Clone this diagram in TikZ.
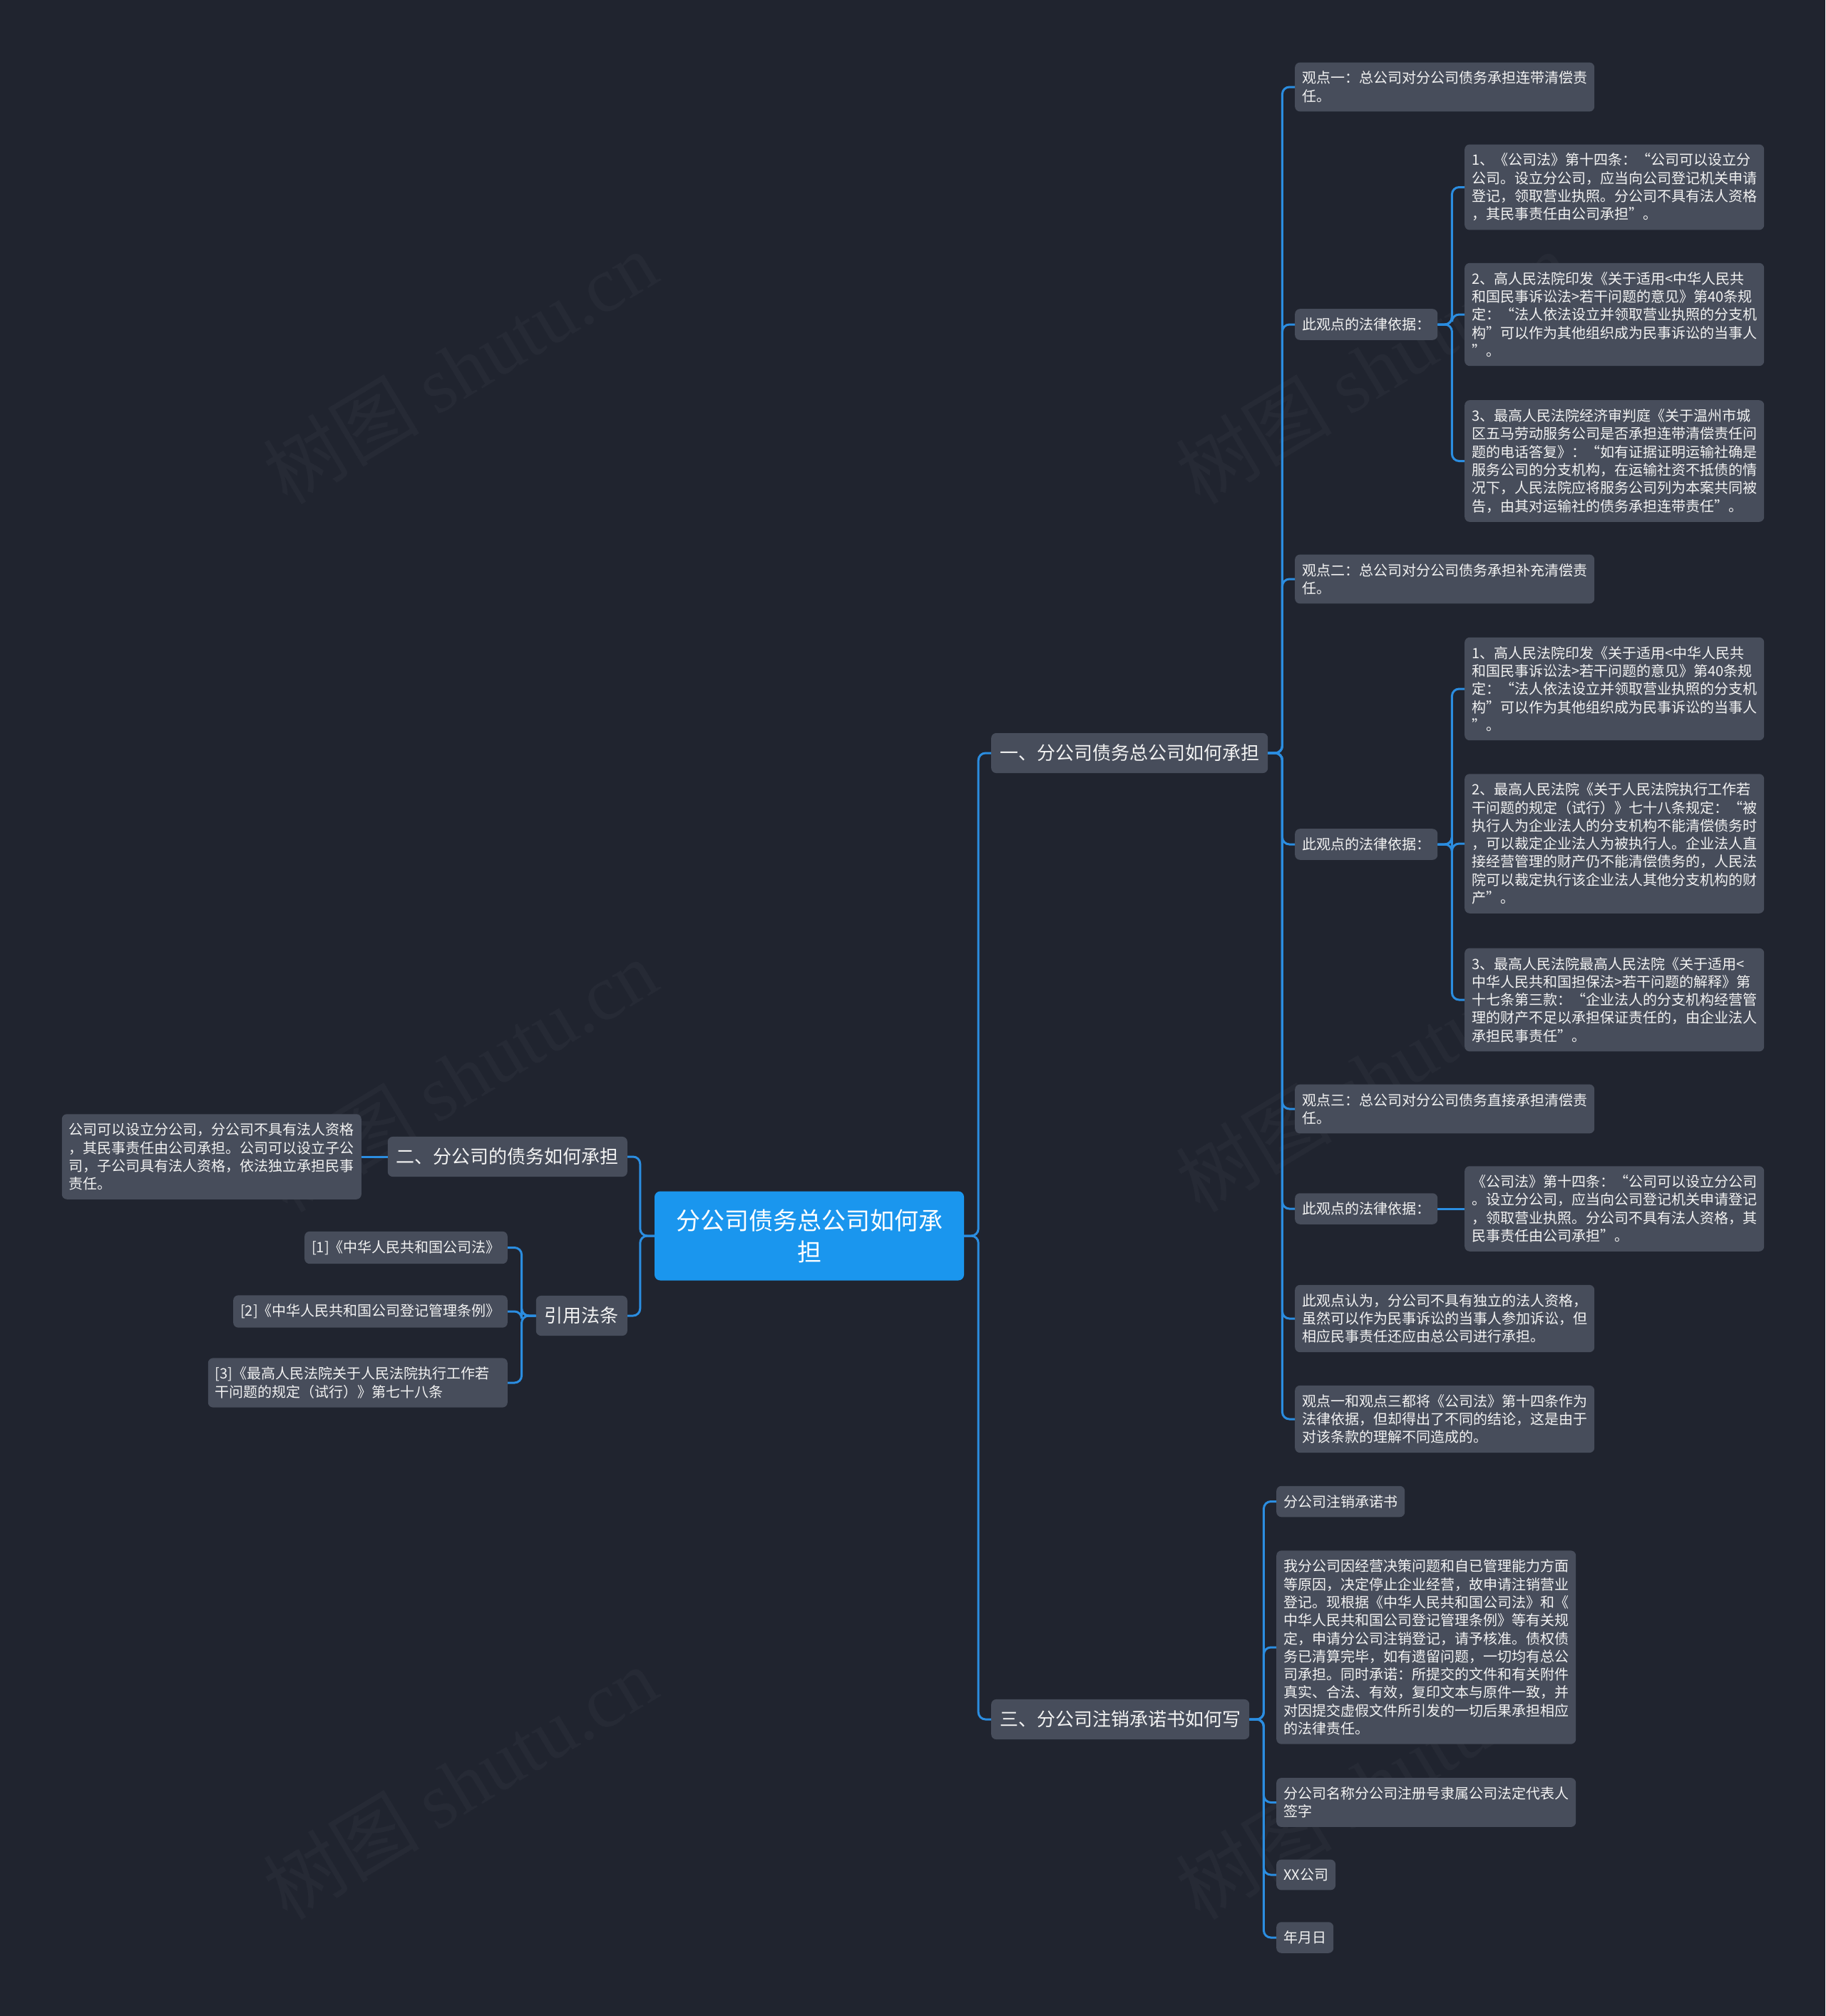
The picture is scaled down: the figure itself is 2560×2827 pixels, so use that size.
\documentclass[tikz,border=0pt]{standalone}
\usepackage{fontspec}
\setmainfont{Noto Sans CJK SC}
\newfontfamily\wmserif{Liberation Serif}
\definecolor{bgc}{HTML}{20242F}
\definecolor{nodefill}{HTML}{474D5B}
\definecolor{rootblue}{HTML}{1A96EE}
\definecolor{lineblue}{HTML}{2B8DE0}
\definecolor{txtc}{HTML}{F2F2F2}
\definecolor{wmc}{HTML}{262A35}
\tikzset{
  box/.style={fill=nodefill, rounded corners=7pt, text=txtc,
    font=\fontsize{20}{25.3}\selectfont, inner xsep=10pt, inner ysep=12.5pt, align=left},
  wbox/.style={box, text width=400pt},
  lvlone/.style={fill=nodefill, rounded corners=7pt, text=txtc,
    font=\fontsize{26}{32}\selectfont, inner xsep=12pt, inner ysep=16pt},
  rootbox/.style={fill=rootblue, rounded corners=8pt, text=white,
    font=\fontsize{34}{44}\selectfont, text width=380pt, align=center,
    minimum width=434pt, minimum height=125pt},
  conn/.style={draw=lineblue, line width=3pt, rounded corners=10pt},
  wm/.style={text=wmc, rotate=31, font=\fontsize{110}{120}\selectfont},
}
\begin{document}
\begin{tikzpicture}[x=1pt,y=-1pt]
\fill[bgc] (0,0) rectangle (2560,2827);
\useasboundingbox (0,0) rectangle (2560,2827);
% watermarks
\node[wm] (w1) at (645,515) {树图 {\wmserif shutu.cn}};
\node[wm] (w2) at (645,1508) {树图 {\wmserif shutu.cn}};
\node[wm] (w3) at (645,2500) {树图 {\wmserif shutu.cn}};
\node[wm] (w4) at (1925,515) {树图 {\wmserif shutu.cn}};
\node[wm] (w5) at (1925,1508) {树图 {\wmserif shutu.cn}};
\node[wm] (w6) at (1925,2500) {树图 {\wmserif shutu.cn}};

% root
\node[rootbox] (root) at (1135,1733) {分公司债务总公司如何承\\担};

% level 1
\node[lvlone, anchor=west] (L1) at (1390,1056) {一、分公司债务总公司如何承担};
\node[lvlone, anchor=east] (L2) at (880,1622) {二、分公司的债务如何承担};
\node[lvlone, anchor=east] (L3) at (880,1845) {引用法条};
\node[lvlone, anchor=west] (L4) at (1390,2411) {三、分公司注销承诺书如何写};

% level 2 under L1
\node[wbox, anchor=west] (g1) at (1816,122) {观点一：总公司对分公司债务承担连带清偿责\\任。};
\node[box, anchor=west] (j1) at (1816,455) {此观点的法律依据：};
\node[wbox, anchor=west] (g2) at (1816,812) {观点二：总公司对分公司债务承担补充清偿责\\任。};
\node[box, anchor=west] (j2) at (1816,1184) {此观点的法律依据：};
\node[wbox, anchor=west] (g3) at (1816,1555) {观点三：总公司对分公司债务直接承担清偿责\\任。};
\node[box, anchor=west] (j3) at (1816,1695) {此观点的法律依据：};
\node[wbox, anchor=west] (c1) at (1816,1849) {此观点认为，分公司不具有独立的法人资格，\\虽然可以作为民事诉讼的当事人参加诉讼，但\\相应民事责任还应由总公司进行承担。};
\node[wbox, anchor=west] (c2) at (1816,1990) {观点一和观点三都将《公司法》第十四条作为\\法律依据，但却得出了不同的结论，这是由于\\对该条款的理解不同造成的。};

% level 3
\node[wbox, anchor=west] (a1) at (2054,262.5) {1、《公司法》第十四条：“公司可以设立分\\公司。设立分公司，应当向公司登记机关申请\\登记，领取营业执照。分公司不具有法人资格\\，其民事责任由公司承担”。};
\node[wbox, anchor=west] (a2) at (2054,441) {2、高人民法院印发《关于适用<中华人民共\\和国民事诉讼法>若干问题的意见》第40条规\\定：“法人依法设立并领取营业执照的分支机\\构”可以作为其他组织成为民事诉讼的当事人\\”。};
\node[wbox, anchor=west] (a3) at (2054,646.5) {3、最高人民法院经济审判庭《关于温州市城\\区五马劳动服务公司是否承担连带清偿责任问\\题的电话答复》：“如有证据证明运输社确是\\服务公司的分支机构，在运输社资不抵债的情\\况下，人民法院应将服务公司列为本案共同被\\告，由其对运输社的债务承担连带责任”。};
\node[wbox, anchor=west] (b1) at (2054,966) {1、高人民法院印发《关于适用<中华人民共\\和国民事诉讼法>若干问题的意见》第40条规\\定：“法人依法设立并领取营业执照的分支机\\构”可以作为其他组织成为民事诉讼的当事人\\”。};
\node[wbox, anchor=west] (b2) at (2054,1183) {2、最高人民法院《关于人民法院执行工作若\\干问题的规定（试行）》七十八条规定：“被\\执行人为企业法人的分支机构不能清偿债务时\\，可以裁定企业法人为被执行人。企业法人直\\接经营管理的财产仍不能清偿债务的，人民法\\院可以裁定执行该企业法人其他分支机构的财\\产”。};
\node[wbox, anchor=west] (b3) at (2054,1402) {3、最高人民法院最高人民法院《关于适用<\\中华人民共和国担保法>若干问题的解释》第\\十七条第三款：“企业法人的分支机构经营管\\理的财产不足以承担保证责任的，由企业法人\\承担民事责任”。};
\node[wbox, anchor=west] (d1) at (2054,1695) {《公司法》第十四条：“公司可以设立分公司\\。设立分公司，应当向公司登记机关申请登记\\，领取营业执照。分公司不具有法人资格，其\\民事责任由公司承担”。};

% under L4
\node[box, anchor=west] (e1) at (1790,2105.5) {分公司注销承诺书};
\node[wbox, anchor=west] (e2) at (1790,2310) {我分公司因经营决策问题和自已管理能力方面\\等原因，决定停止企业经营，故申请注销营业\\登记。现根据《中华人民共和国公司法》和《\\中华人民共和国公司登记管理条例》等有关规\\定，申请分公司注销登记，请予核准。债权债\\务已清算完毕，如有遗留问题，一切均有总公\\司承担。同时承诺：所提交的文件和有关附件\\真实、合法、有效，复印文本与原件一致，并\\对因提交虚假文件所引发的一切后果承担相应\\的法律责任。};
\node[wbox, anchor=west] (e3) at (1790,2527.5) {分公司名称分公司注册号隶属公司法定代表人\\签字};
\node[box, anchor=west] (e4) at (1790,2629) {XX公司};
\node[box, anchor=west] (e5) at (1790,2717) {年月日};

% left side
\node[wbox, anchor=east] (f1) at (507,1622) {公司可以设立分公司，分公司不具有法人资格\\，其民事责任由公司承担。公司可以设立子公\\司，子公司具有法人资格，依法独立承担民事\\责任。};
\node[box, anchor=east] (r1) at (712,1749.5) {[1]《中华人民共和国公司法》};
\node[box, anchor=east] (r2) at (712,1839) {[2]《中华人民共和国公司登记管理条例》};
\node[wbox, anchor=east] (r3) at (712,1939) {[3]《最高人民法院关于人民法院执行工作若\\干问题的规定（试行）》第七十八条};

% connectors
\foreach \c in {L1,L4} \draw[conn] (root.east) -- ++(20,0) |- (\c.west);
\foreach \c in {L2,L3} \draw[conn] (root.west) -- ++(-20,0) |- (\c.east);
\foreach \c in {g1,j1,g2,j2,g3,j3,c1,c2} \draw[conn] (L1.east) -- ++(20,0) |- (\c.west);
\foreach \c in {a1,a2,a3} \draw[conn] (j1.east) -- ++(20,0) |- (\c.west);
\foreach \c in {b1,b2,b3} \draw[conn] (j2.east) -- ++(20,0) |- (\c.west);
\draw[conn] (j3.east) -- (d1.west);
\foreach \c in {e1,e2,e3,e4,e5} \draw[conn] (L4.east) -- ++(20,0) |- (\c.west);
\draw[conn] (L2.west) -- (f1.east);
\foreach \c in {r1,r2,r3} \draw[conn] (L3.west) -- ++(-20,0) |- (\c.east);
\end{tikzpicture}
\end{document}
